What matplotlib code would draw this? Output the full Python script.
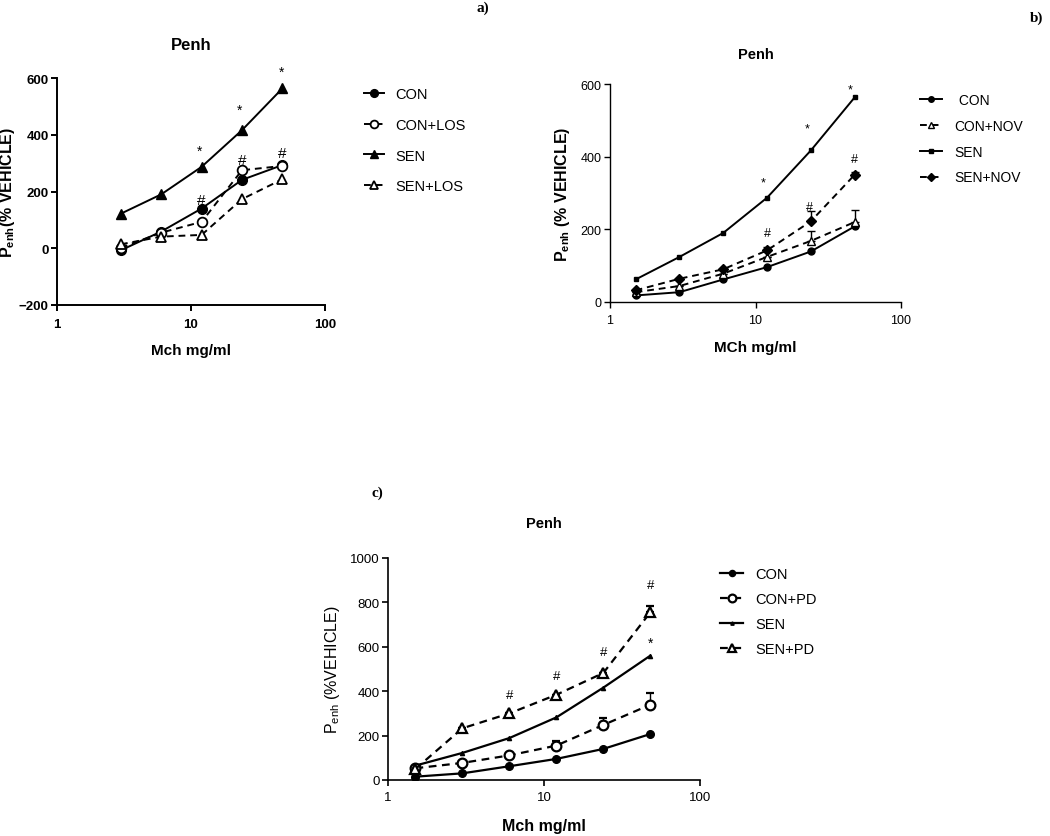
import matplotlib
matplotlib.use('Agg')
import matplotlib.pyplot as plt
from matplotlib.ticker import NullLocator

plt.rcParams['font.family'] = ['Liberation Sans', 'DejaVu Sans']
plt.rcParams['mathtext.default'] = 'regular'

# ---------------- data ----------------
# panel a
dose_a = [3, 6, 12, 24, 48]
a_con = [-7, 59, 140, 241, 293]
a_con_los = [2, 55, 93, 275, 290]
a_sen = [122, 190, 287, 416, 563]
a_sen_los = [14, 41, 47, 173, 243]
a_star_x = [11.5, 23, 47]
a_star_y = [343, 487, 622]
a_hash_x = [12, 24, 48]
a_hash_y = [170, 310, 335]

# panel b
dose_b = [1.5, 3, 6, 12, 24, 48]
b_con = [18, 27, 62, 96, 139, 208]
b_con_nov = [27, 44, 78, 124, 168, 220]
b_con_nov_err = [0, 0, 0, 0, 27, 34]
b_sen = [62, 124, 190, 287, 417, 563]
b_sen_nov = [32, 64, 90, 142, 222, 350]
b_sen_nov_err = [0, 0, 0, 9, 28, 9]
b_star_x = [11.3, 22.5, 45]
b_star_y = [330, 478, 584]
b_hash_x = [12, 23.5, 48]
b_hash_y = [190, 261, 394]

# panel c
dose_c = [1.5, 3, 6, 12, 24, 48]
c_con = [15, 30, 62, 95, 140, 207]
c_con_pd = [53, 77, 111, 155, 248, 339]
c_con_pd_err = [0, 0, 0, 22, 31, 51]
c_sen = [65, 122, 189, 282, 416, 560]
c_sen_pd = [50, 233, 300, 384, 482, 755]
c_sen_pd_err = [0, 0, 0, 0, 0, 30]
c_hash_x = [6, 12, 24, 48]
c_hash_y = [383, 470, 575, 878]
c_star_x = [48]
c_star_y = [617]

W, H = 1050, 837
fig = plt.figure(figsize=(W / 100, H / 100), dpi=100)


def px_axes(l, t, r, b):
    return fig.add_axes([l / W, 1 - b / H, (r - l) / W, (b - t) / H])


def style(ax, ylim, yticks, tickweight, lw, fs, xpad, ypad=2):
    ax.set_xscale('log')
    ax.set_xlim(1, 100)
    ax.set_ylim(*ylim)
    ax.set_xticks([1, 10, 100])
    ax.set_xticklabels(['1', '10', '100'])
    ax.xaxis.set_minor_locator(NullLocator())
    ax.set_yticks(yticks)
    for s in ['top', 'right']:
        ax.spines[s].set_visible(False)
    for s in ['left', 'bottom']:
        ax.spines[s].set_linewidth(lw)
    ax.tick_params(direction='out', length=4, width=lw, labelsize=fs)
    ax.tick_params(axis='x', pad=xpad)
    ax.tick_params(axis='y', pad=ypad)
    for lab in ax.get_xticklabels() + ax.get_yticklabels():
        lab.set_fontweight(tickweight)
    ax.patch.set_alpha(0)


dash = (0, (3.5, 2.5))

# ---------------- panel a ----------------
ax = px_axes(57, 79, 325, 306)
style(ax, (-200, 600), [-200, 0, 200, 400, 600], 'bold', 1.4, 9.5, xpad=5.5)
la1, = ax.plot(dose_a, a_con, '-', color='black', lw=1.4, marker='o', ms=7, mfc='black', mec='black')
la2, = ax.plot(dose_a, a_con_los, linestyle=dash, color='black', lw=1.4, marker='o', ms=7, mfc='white', mec='black', mew=1.3)
la3, = ax.plot(dose_a, a_sen, '-', color='black', lw=1.4, marker='^', ms=7, mfc='black', mec='black')
la4, = ax.plot(dose_a, a_sen_los, linestyle=dash, color='black', lw=1.4, marker='^', ms=7, mfc='white', mec='black', mew=1.3)
for x, y in zip(a_star_x, a_star_y):
    ax.text(x, y, '*', ha='center', va='center', fontsize=10)
for x, y in zip(a_hash_x, a_hash_y):
    ax.text(x, y, '#', ha='center', va='center', fontsize=11)
ax.set_title('Penh', fontsize=12, fontweight='bold', pad=21)
ax.set_xlabel('Mch mg/ml', fontsize=11, fontweight='bold', labelpad=9)
ax.set_ylabel('P$_{enh}$(% VEHICLE)', fontsize=11.5, fontweight='bold')
ax.yaxis.set_label_coords((17 - 57) / 268, 0.5)
fig.legend(handles=[la1, la2, la3, la4], labels=['CON', 'CON+LOS', 'SEN', 'SEN+LOS'], loc='upper left',
           bbox_to_anchor=(364 / W, 1 - 88 / H), frameon=False, fontsize=10.5, handlelength=1.4,
           handletextpad=0.75, labelspacing=1.15, borderpad=0, borderaxespad=0, markerscale=0.8)

# ---------------- panel b ----------------
ax = px_axes(610, 85, 901, 303)
style(ax, (0, 600), [0, 200, 400, 600], 'normal', 1.0, 9, xpad=5)
lb1, = ax.plot(dose_b, b_con, '-', color='black', lw=1.4, marker='o', ms=5, mfc='black', mec='black')
lb2 = ax.errorbar(dose_b, b_con_nov, yerr=[[0] * len(b_con_nov_err), b_con_nov_err], linestyle=dash, color='black', lw=1.4,
                  marker='^', ms=6, mfc='white', mec='black', mew=1.0, ecolor='black', elinewidth=1.0, capsize=3)
lb3, = ax.plot(dose_b, b_sen, '-', color='black', lw=1.4, marker='s', ms=3.5, mfc='black', mec='black')
lb4 = ax.errorbar(dose_b, b_sen_nov, yerr=[[0] * len(b_sen_nov_err), b_sen_nov_err], linestyle=dash, color='black', lw=1.4,
                  marker='D', ms=5, mfc='black', mec='black', ecolor='black', elinewidth=1.0, capsize=3)
for x, y in zip(b_star_x, b_star_y):
    ax.text(x, y, '*', ha='center', va='center', fontsize=9)
for x, y in zip(b_hash_x, b_hash_y):
    ax.text(x, y, '#', ha='center', va='center', fontsize=9)
ax.set_title('Penh', fontsize=10.5, fontweight='bold', pad=19)
ax.set_xlabel('MCh mg/ml', fontsize=11, fontweight='bold', labelpad=10)
ax.set_ylabel('P$_{enh}$ (% VEHICLE)', fontsize=11.5, fontweight='bold', labelpad=6)
fig.legend(handles=[lb1, lb2[0], lb3, lb4[0]], labels=[' CON', 'CON+NOV', 'SEN', 'SEN+NOV'], loc='upper left',
           bbox_to_anchor=(920 / W, 1 - 94 / H), frameon=False, fontsize=10, handlelength=1.6, handletextpad=0.9,
           labelspacing=0.85, borderpad=0, borderaxespad=0, markerscale=0.8)

# ---------------- panel c ----------------
ax = px_axes(388, 559, 700, 781)
style(ax, (0, 1000), [0, 200, 400, 600, 800, 1000], 'normal', 1.2, 9.5, xpad=4)
lc1, = ax.plot(dose_c, c_con, '-', color='black', lw=1.6, marker='o', ms=5.5, mfc='black', mec='black')
lc2 = ax.errorbar(dose_c, c_con_pd, yerr=[[0] * len(c_con_pd_err), c_con_pd_err], linestyle=dash, color='black', lw=1.6,
                  marker='o', ms=7, mfc='white', mec='black', mew=1.6, ecolor='black', elinewidth=1.0, capsize=3)
lc3, = ax.plot(dose_c, c_sen, '-', color='black', lw=1.6, marker='^', ms=3, mfc='black', mec='black')
lc4 = ax.errorbar(dose_c, c_sen_pd, yerr=[[0] * len(c_sen_pd_err), c_sen_pd_err], linestyle=dash, color='black', lw=1.6,
                  marker='^', ms=7.5, mfc='white', mec='black', mew=1.6, ecolor='black', elinewidth=1.0, capsize=3)
for x, y in zip(c_hash_x, c_hash_y):
    ax.text(x, y, '#', ha='center', va='center', fontsize=9.5)
for x, y in zip(c_star_x, c_star_y):
    ax.text(x, y, '*', ha='center', va='center', fontsize=10)
ax.set_title('Penh', fontsize=10.5, fontweight='bold', pad=22)
ax.set_xlabel('Mch mg/ml', fontsize=11.5, fontweight='bold', labelpad=10.5)
ax.set_ylabel('P$_{enh}$ (%VEHICLE)', fontsize=11.5, labelpad=6)
fig.legend(handles=[lc1, lc2[0], lc3, lc4[0]], labels=['CON', 'CON+PD', 'SEN', 'SEN+PD'], loc='upper left',
           bbox_to_anchor=(720 / W, 1 - 568 / H), frameon=False, fontsize=10.5, handlelength=1.6,
           handletextpad=0.8, labelspacing=0.75, borderpad=0, borderaxespad=0, markerscale=0.8)

# panel letters
serif = ['Liberation Serif', 'DejaVu Serif']
fig.text(483 / W, 1 - 8 / H, 'a)', family=serif, fontsize=11, fontweight='bold', ha='center', va='center')
fig.text(1037 / W, 1 - 18 / H, 'b)', family=serif, fontsize=11, fontweight='bold', ha='center', va='center')
fig.text(377 / W, 1 - 493 / H, 'c)', family=serif, fontsize=11, fontweight='bold', ha='center', va='center')

fig.savefig('out.png', dpi=100)
